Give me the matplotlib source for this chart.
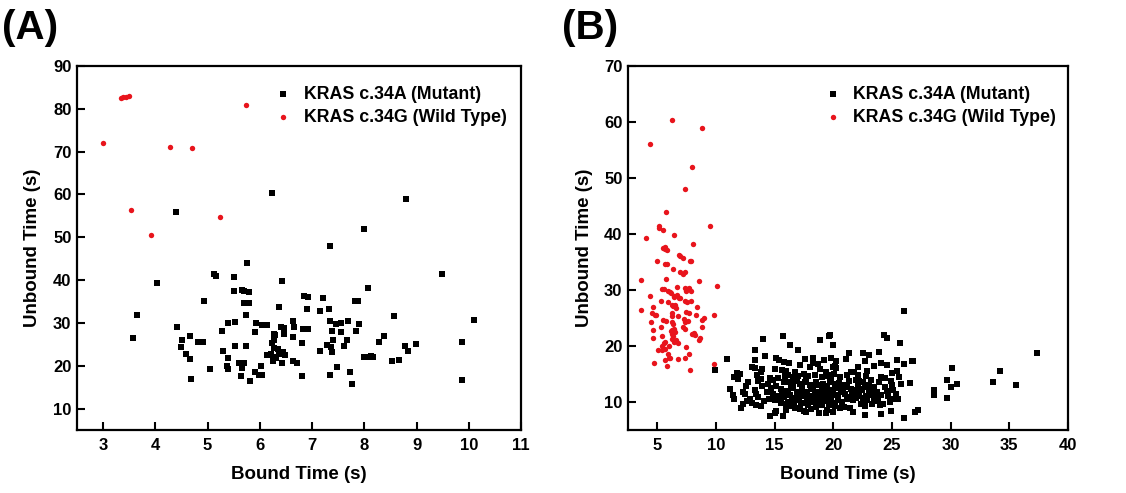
import numpy as np
import matplotlib
matplotlib.use('Agg')
import matplotlib.pyplot as plt

plt.rcParams['font.family'] = ['Liberation Sans', 'DejaVu Sans']

# Panel A: KRAS c.34A (mutant) - (bound, unbound) times in s
mutant_a = [
    (6.23, 60.4), (8.80, 58.9), (4.40, 56.0), (7.99, 52.0), (7.34, 48.0), (5.76, 43.9),
    (9.49, 41.4), (5.13, 41.5), (5.16, 41.0), (5.50, 40.8), (4.04, 39.3), (6.42, 39.9),
    (8.07, 38.2), (5.50, 37.5), (5.66, 37.7), (5.69, 37.4), (5.79, 37.2), (5.69, 34.6),
    (5.79, 34.7), (4.93, 35.2), (6.84, 36.3), (6.92, 36.1), (7.21, 35.8), (7.82, 35.2),
    (7.87, 35.1), (6.37, 33.8), (6.90, 33.3), (7.16, 32.9), (7.32, 33.3), (5.73, 31.9),
    (3.64, 31.8), (8.56, 31.6), (10.10, 30.7), (5.39, 30.1), (5.53, 30.2), (5.92, 29.9),
    (6.04, 29.6), (6.13, 29.5), (6.64, 30.5), (7.35, 30.4), (7.46, 29.8), (7.55, 30.1),
    (7.69, 30.4), (7.89, 29.8), (6.40, 29.0), (6.46, 28.8), (6.66, 29.1), (4.41, 29.0),
    (6.83, 28.5), (6.92, 28.5), (5.28, 28.1), (5.91, 27.9), (7.38, 28.1), (7.55, 27.9),
    (7.84, 28.1), (6.27, 27.4), (6.30, 27.1), (6.47, 27.4), (6.63, 26.8), (8.37, 27.0),
    (4.66, 27.0), (3.57, 26.5), (4.51, 25.9), (4.82, 25.6), (4.91, 25.5), (7.41, 26.0),
    (7.67, 25.9), (8.29, 25.6), (6.24, 25.4), (6.27, 25.9), (6.80, 25.3), (9.87, 25.6),
    (8.99, 25.0), (7.28, 24.8), (5.52, 24.6), (5.73, 24.5), (8.78, 24.6), (4.50, 24.3),
    (7.37, 24.3), (7.61, 24.5), (6.28, 24.2), (6.34, 23.9), (5.30, 23.4), (8.83, 23.4),
    (7.15, 23.4), (6.44, 23.1), (7.39, 23.1), (4.59, 22.8), (6.14, 22.6), (6.21, 22.8),
    (6.37, 22.8), (6.49, 22.5), (6.26, 22.1), (6.31, 21.7), (7.99, 22.1), (8.06, 22.1),
    (8.12, 22.3), (8.17, 22.0), (5.39, 21.8), (4.67, 21.5), (8.67, 21.4), (8.53, 21.1),
    (6.26, 21.2), (6.43, 20.7), (6.63, 21.1), (6.72, 20.6), (5.38, 20.0), (5.40, 19.3),
    (5.60, 20.6), (5.69, 20.7), (5.65, 19.5), (6.02, 20.0), (7.47, 19.8), (5.05, 19.3),
    (5.91, 18.6), (7.73, 18.6), (5.98, 17.9), (6.04, 17.8), (5.64, 17.5), (6.80, 17.6),
    (7.35, 17.8), (4.68, 17.0), (5.81, 16.4), (7.77, 15.7), (9.87, 16.7),
]

# Panel A: KRAS c.34G (wild type)
wild_a = [
    (2.99, 72.0), (3.34, 82.5), (3.39, 82.7), (3.43, 82.8), (3.49, 82.9), (5.74, 81.0),
    (4.28, 71.2), (4.70, 70.9), (3.54, 56.4), (5.24, 54.7), (3.91, 50.6),
]

# Panel B: wild type points are the same set as panel A mutant in the figure
wild_b = list(mutant_a)

# Panel B: KRAS c.34A (mutant)
mutant_b = [
    # outliers / sparse
    (26.0, 26.2), (37.4, 18.8), (33.6, 13.5), (34.2, 15.6), (35.6, 13.1), (30.1, 16.0),
    (29.7, 14.0), (30.0, 12.6), (30.5, 13.2), (29.7, 10.8), (28.6, 12.1), (28.6, 11.7),
    (28.6, 11.2), (27.0, 8.2), (27.2, 8.5), (26.0, 7.2), (26.8, 17.4), (26.5, 13.4),
    (25.7, 20.5), (24.9, 8.4), (24.1, 7.9), (22.7, 7.6), (21.7, 8.2), (20.6, 8.9),
    (17.7, 8.3), (19.4, 8.1), (9.9, 15.7), (10.9, 17.6), (24.3, 21.9), (24.6, 21.5),
    (19.7, 22.0), (20.0, 20.2), (23.9, 19.0), (21.3, 18.7), (22.5, 18.8), (23.0, 18.4),
    # right part of band
    (20.2, 17.3), (21.1, 17.6), (22.7, 17.3), (24.1, 17.0), (25.4, 17.5), (26.7, 17.3),
    (26.0, 16.8), (23.5, 16.4), (24.6, 16.6), (22.1, 16.3), (20.0, 16.3), (20.2, 16.0),
    (22.9, 15.6), (21.5, 15.4), (25.4, 15.5), (25.0, 15.2), (24.1, 14.5), (22.1, 14.9),
    (19.7, 14.8), (20.6, 14.5), (24.4, 14.2), (25.6, 14.4), (22.8, 14.6), (21.9, 14.0),
    (22.2, 13.8), (22.5, 13.6), (21.3, 13.8), (24.9, 13.7), (25.0, 13.1), (25.8, 13.2),
    (20.1, 13.3), (20.5, 13.4), (22.7, 12.6), (23.0, 12.2), (23.4, 12.0), (23.75, 11.7),
    (24.1, 11.3), (20.9, 12.8), (21.2, 12.6), (21.5, 12.4), (21.9, 12.2), (25.1, 12.2),
    (19.7, 12.1), (20.0, 11.7), (20.4, 11.2), (22.2, 11.1), (22.5, 10.8), (22.8, 11.1),
    (24.7, 11.1), (25.1, 10.6), (25.5, 10.5), (23.5, 10.3), (23.8, 10.1), (24.2, 9.7),
    (21.2, 10.6), (21.7, 10.3), (19.6, 9.7), (20.0, 9.4), (20.9, 9.1), (21.4, 9.0),
    (22.4, 9.6), (22.7, 9.3), (24.0, 9.4), (19.84, 13.92), (20.23, 12.61), (20.63, 12.01),
    (19.79, 10.93), (20.36, 10.33), (20.76, 10.03), (21.02, 11.41), (21.41, 10.93),
    (21.8, 11.53), (22.06, 12.85), (22.45, 12.13), (23.1, 11.23), (23.49, 12.61),
    (23.88, 13.63), (24.4, 12.61), (23.23, 13.92), (21.15, 14.82), (21.8, 15.42),
    (20.5, 12.5), (21.0, 13.1), (21.6, 11.8), (22.3, 12.4), (23.0, 13.0), (23.6, 11.3),
    (24.6, 12.0), (24.8, 10.0), (25.3, 11.4), (20.8, 11.7), (21.9, 10.7), (22.9, 10.4),
    (23.3, 9.6),
    # left part of band
    (14.0, 21.3), (15.7, 21.8), (16.3, 20.1), (17.0, 19.3), (13.3, 19.3), (18.9, 21.1),
    (19.6, 21.8), (14.2, 18.3), (13.3, 17.5), (15.1, 17.9), (15.4, 17.5), (15.8, 17.2),
    (16.2, 17.0), (17.55, 17.7), (18.3, 17.9), (19.2, 17.5), (19.8, 17.8), (20.1, 16.5),
    (17.2, 16.6), (13.05, 16.3), (13.3, 16.0), (13.96, 15.9), (13.8, 15.4), (13.5, 14.8),
    (11.75, 15.2), (12.06, 14.95), (11.54, 14.4), (11.88, 14.1), (15.0, 15.9), (15.65, 15.8),
    (16.0, 15.6), (16.7, 15.3), (18.0, 16.2), (18.3, 17.0), (18.67, 16.75), (18.9, 15.9),
    (19.34, 15.4), (12.74, 13.6), (12.58, 12.9), (12.27, 11.7), (12.47, 11.4), (11.22, 12.4),
    (11.43, 11.2), (11.54, 10.6), (13.36, 12.2), (13.62, 13.75), (13.83, 14.1), (14.61, 14.35),
    (14.82, 14.0), (14.35, 11.8), (13.57, 10.9), (13.1, 9.8), (13.44, 9.4), (12.27, 9.6),
    (12.14, 9.0), (13.83, 9.2), (14.56, 7.5), (15.0, 8.1), (15.73, 7.5), (15.1, 8.4),
    (14.7, 12.5), (14.4, 13.2), (14.9, 11.4), (14.5, 10.6), (13.9, 12.8), (13.4, 11.5),
    (14.1, 10.2), (12.9, 10.5), (12.6, 10.2),
    # dense core
    (16.17, 14.83), (16.56, 14.41), (17.0, 14.71), (17.47, 15.01), (17.86, 14.59),
    (18.46, 14.83), (19.04, 14.41), (19.56, 14.71), (20.02, 14.95),
    (15.78, 13.63), (16.22, 13.51), (16.69, 13.75), (17.16, 13.21), (17.6, 13.51),
    (17.99, 13.03), (18.56, 13.63), (19.16, 13.21), (19.68, 13.51), (20.2, 13.03),
    (15.52, 12.31), (15.96, 12.02), (16.43, 12.43), (16.9, 11.84), (17.37, 12.2),
    (17.78, 11.72), (18.25, 12.31), (18.77, 11.84), (19.29, 12.2), (19.86, 11.72),
    (15.26, 11.12), (15.78, 10.82), (16.3, 11.24), (16.82, 10.64), (17.26, 11.0),
    (17.73, 10.52), (18.2, 11.12), (18.72, 10.64), (19.24, 11.0), (19.76, 10.52), (20.2, 11.24),
    (15.52, 9.8), (16.12, 10.04), (16.64, 9.44), (17.21, 9.8), (17.86, 9.44),
    (18.46, 9.92), (19.04, 9.44), (19.61, 9.8), (20.13, 9.32),
    (15.96, 8.6), (16.74, 8.84), (17.53, 8.42), (18.13, 8.72), (18.78, 8.12),
    (19.43, 8.6), (19.95, 8.24),
    (15.3, 14.2), (15.9, 14.6), (16.4, 13.0), (16.9, 14.1), (17.3, 12.8), (17.7, 14.0),
    (18.1, 12.6), (18.6, 13.1), (19.0, 12.7), (19.5, 12.9), (15.1, 12.9), (15.6, 11.5),
    (16.1, 11.6), (16.6, 12.9), (17.1, 10.9), (17.5, 11.4), (18.0, 10.8), (18.4, 11.6),
    (18.9, 10.3), (19.4, 11.5), (15.0, 10.4), (15.5, 10.9), (16.0, 9.6), (16.5, 10.2),
    (17.0, 10.3), (17.4, 9.9), (17.9, 10.0), (18.3, 10.4), (18.8, 9.8), (19.2, 10.1),
    (19.7, 10.9), (16.3, 9.2), (17.2, 8.8), (18.5, 9.1), (19.9, 9.9),
]

panels = [
    ('(A)', mutant_a, wild_a, (2.5, 11), (5, 90), range(3, 12), range(10, 91, 10)),
    ('(B)', mutant_b, wild_b, (2.5, 40), (5, 70), range(5, 41, 5), range(10, 71, 10)),
]

W, H = 1126, 493
fig = plt.figure(figsize=(W / 100, H / 100), dpi=100)
boxes = [(77, 66, 521, 430), (628, 66, 1068, 430)]
tags_x = [2, 562]

for (tag, mut, wt, xl, yl, xt, yt), (l, t, r, b), tx in zip(panels, boxes, tags_x):
    ax = fig.add_axes([l / W, 1 - b / H, (r - l) / W, (b - t) / H])
    mx, my = zip(*mut)
    wx, wy = zip(*wt)
    ax.scatter(mx, my, s=15, marker='s', color='black', linewidths=0,
               label='KRAS c.34A (Mutant)', zorder=3)
    ax.scatter(wx, wy, s=15, marker='o', color='#e8141c', linewidths=0,
               label='KRAS c.34G (Wild Type)', zorder=3)
    ax.set_xlim(*xl)
    ax.set_ylim(*yl)
    ax.set_xticks(list(xt))
    ax.set_yticks(list(yt))
    for sp in ax.spines.values():
        sp.set_linewidth(1.6)
    ax.tick_params(direction='in', length=6, width=1.5, top=False, right=False,
                   labelsize=12)
    ax.tick_params(axis='x', pad=6)
    ax.tick_params(axis='y', pad=4)
    for lab in ax.get_xticklabels() + ax.get_yticklabels():
        lab.set_fontweight('bold')
    ax.set_xlabel('Bound Time (s)', fontsize=13.5, fontweight='bold')
    ax.set_ylabel('Unbound Time (s)', fontsize=13.5, fontweight='bold')
    ax.xaxis.set_label_coords(0.5, -0.10)
    ax.yaxis.set_label_coords(-0.08, 0.5)
    leg = ax.legend(loc='upper left', bbox_to_anchor=(0.445, 0.945), frameon=False,
                    prop={'size': 12.8, 'weight': 'bold'}, borderpad=0, borderaxespad=0,
                    handlelength=1.0, handletextpad=0.65, labelspacing=0.32, markerscale=1.0)
    fig.text(tx / W, 1 - 28 / H, tag, fontsize=29, fontweight='bold', va='center', ha='left')

fig.savefig('out.png', dpi=100)
